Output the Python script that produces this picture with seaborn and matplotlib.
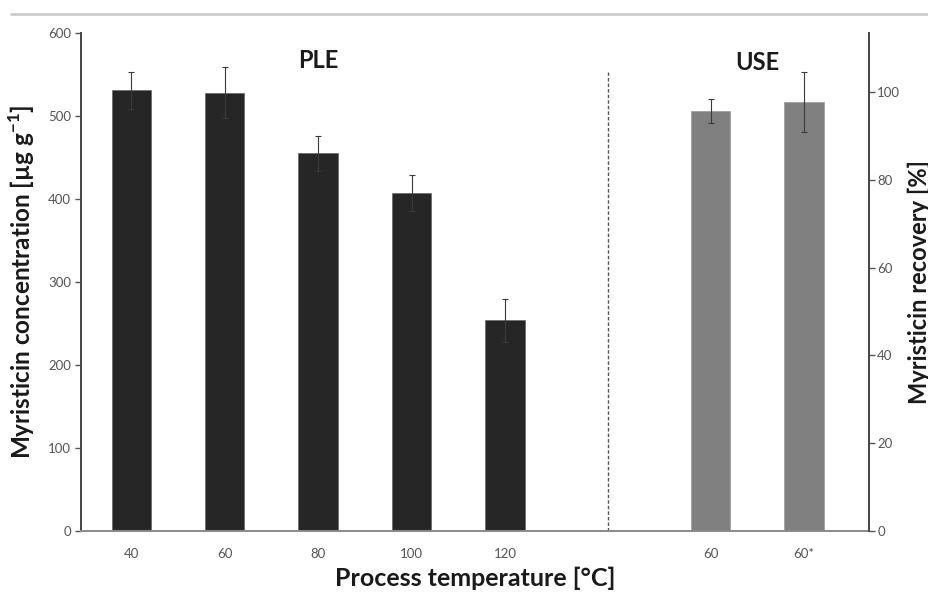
import numpy as np
import pandas as pd
import matplotlib
matplotlib.use("Agg")
import matplotlib.pyplot as plt
from matplotlib.lines import Line2D
import seaborn as sns

# data
ple_temps = ['40', '60', '80', '100', '120']
ple_conc = [531, 528, 455, 407, 254]
ple_err = [22, 31, 21, 22, 26]

use_temps = ['60', '60*']
use_conc = [506, 517]
use_err = [14, 36]

recovery_ticks = [0, 20, 40, 60, 80, 100]

sns.set_theme(style='white')
plt.rcParams['font.family'] = ['Lato', 'DejaVu Sans']
plt.rcParams['mathtext.fontset'] = 'custom'
plt.rcParams['mathtext.rm'] = 'Lato'
plt.rcParams['mathtext.bf'] = 'Lato:bold'

# slot layout on the x axis
ple_x = np.arange(len(ple_temps), dtype=float)
use_x = len(ple_temps) + 1.2 + np.arange(len(use_temps))
ple = pd.DataFrame({'x': ple_x, 'conc': ple_conc})
use = pd.DataFrame({'x': use_x, 'conc': use_conc})

fig = plt.figure(figsize=(9.29, 5.93), dpi=100)
ax = fig.add_axes([0.0872, 0.1046, 0.8482, 0.8398])

sns.barplot(data=ple, x='x', y='conc', native_scale=True, color='#262626',
            saturation=1, width=0.42, errorbar=None, edgecolor='#666666',
            linewidth=0.5, ax=ax)
sns.barplot(data=use, x='x', y='conc', native_scale=True, color='#808080',
            saturation=1, width=0.42, errorbar=None, edgecolor='#999999',
            linewidth=0.5, ax=ax)
ax.errorbar(ple_x, ple_conc, yerr=ple_err, fmt='none', ecolor='#3a3a3a',
            elinewidth=0.8, capsize=2, capthick=0.8)
ax.errorbar(use_x, use_conc, yerr=use_err, fmt='none', ecolor='#3a3a3a',
            elinewidth=0.8, capsize=2, capthick=0.8)

# divider between the two methods
mid = (ple_x[-1] + use_x[0]) / 2
ax.plot([mid, mid], [0, 553], color='#555555', lw=1, ls=(0, (2.5, 1.5)))

ax.text(ple_x.mean(), 567, 'PLE', ha='center', va='center',
        fontsize=17, fontweight='bold', color='#1a1a1a')
ax.text(use_x.mean(), 565, 'USE', ha='center', va='center',
        fontsize=17, fontweight='bold', color='#1a1a1a')

ax.set_xlim(-0.537, 7.896)
ax.set_ylim(0, 600)
ax.set_xticks(list(ple_x) + list(use_x))
ax.set_xticklabels(ple_temps + use_temps)
ax.set_yticks(range(0, 601, 100))
ax.tick_params(axis='x', length=0, pad=12, labelsize=9.5, labelcolor='#555555')
ax.tick_params(axis='y', left=True, length=4, width=1, color='#555555',
               pad=3, labelsize=9.5, labelcolor='#555555')
ax.set_xlabel('Process temperature [°C]', fontsize=18, fontweight='bold',
              color='#1a1a1a', labelpad=5)
ax.set_ylabel(r'Myristicin concentration [µg g$^{\mathbf{-1}}$]', fontsize=17.5,
              fontweight='bold', color='#1a1a1a', labelpad=8)

for s in ['top', 'right']:
    ax.spines[s].set_visible(False)
ax.spines['left'].set_color('#444444')
ax.spines['left'].set_linewidth(1.4)
ax.spines['bottom'].set_color('#8a8a8a')
ax.spines['bottom'].set_linewidth(1.4)

# secondary recovery axis
ax2 = ax.twinx()
ax2.set_ylim(0, 113.5)
ax2.set_yticks(recovery_ticks)
ax2.tick_params(axis='y', right=True, length=4, width=1, color='#555555',
                pad=2, labelsize=9.5, labelcolor='#555555')
ax2.set_ylabel('Myristicin recovery [%]', fontsize=17, fontweight='bold',
               color='#1a1a1a', labelpad=5)
for s in ['top', 'left', 'bottom']:
    ax2.spines[s].set_visible(False)
ax2.spines['right'].set_color('#444444')
ax2.spines['right'].set_linewidth(1.4)
ax2.grid(False)

# page rule above the figure
fig.add_artist(Line2D([0.012, 0.998], [0.977, 0.977], color='#cccccc', lw=2))

fig.savefig('out.png', dpi=100)
